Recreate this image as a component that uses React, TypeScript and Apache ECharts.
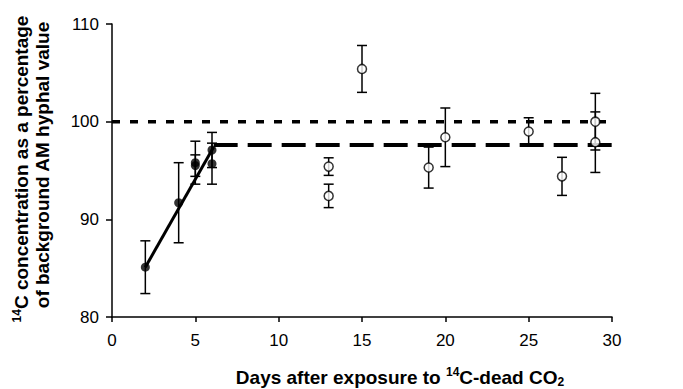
import React, { useEffect, useRef } from "react";
import * as echarts from "echarts";

// Filled circles: early sampling days
const filledDays = [2, 4, 5, 5, 6, 6];
const filledMeans = [85.1, 91.7, 95.8, 95.5, 97.1, 95.7];
const filledErr = [2.7, 4.1, 2.2, 1.1, 1.8, 2.1];

// Open circles: later sampling days
const openDays = [13, 13, 15, 19, 20, 25, 27, 29, 29];
const openMeans = [95.4, 92.4, 105.4, 95.3, 98.4, 99.0, 94.4, 100.0, 97.9];
const openErr = [0.9, 1.2, 2.4, 2.1, 3.0, 1.4, 1.95, 2.9, 3.1];

// Fitted lines
const regX = [2, 6.1];
const regY = [85.1, 97.4];
const plateauX = [6.1, 30];
const plateauY = 97.6;
const backgroundX = [0, 30];
const backgroundY = 100;

// Axes
const xTicks = [0, 5, 10, 15, 20, 25, 30];
const yTicks = [80, 90, 100, 110];

const FONT = "Liberation Sans, Arial, sans-serif";

export default function App() {
  const ref = useRef<HTMLDivElement>(null);
  useEffect(() => {
    if (!ref.current) return;
    const chart = echarts.init(ref.current, null, { renderer: "svg" });

    const errData = [
      ...filledDays.map((d, i) => [d, filledMeans[i] - filledErr[i], filledMeans[i] + filledErr[i]]),
      ...openDays.map((d, i) => [d, openMeans[i] - openErr[i], openMeans[i] + openErr[i]]),
    ];

    const option: any = {
      animation: false,
      backgroundColor: "#ffffff",
      grid: { left: 112, right: 71, top: 24, bottom: 72, containLabel: false },
      xAxis: {
        type: "value",
        min: xTicks[0],
        max: xTicks[xTicks.length - 1],
        interval: 5,
        axisLine: { onZero: false, lineStyle: { color: "#000", width: 1.5 } },
        axisTick: { show: true, inside: false, length: 5, lineStyle: { color: "#000", width: 1.5 } },
        axisLabel: { color: "#000", fontSize: 17, fontFamily: FONT, margin: 15 },
        splitLine: { show: false },
      },
      yAxis: {
        type: "value",
        min: yTicks[0],
        max: yTicks[yTicks.length - 1],
        interval: 10,
        axisLine: { show: true, onZero: false, lineStyle: { color: "#000", width: 1.5 } },
        axisTick: { show: true, inside: false, length: 6, lineStyle: { color: "#000", width: 1.5 } },
        axisLabel: { color: "#000", fontSize: 17, fontFamily: FONT, margin: 13 },
        splitLine: { show: false },
      },
      graphic: [
        {
          type: "text",
          x: 21,
          y: 169,
          rotation: Math.PI / 2,
          style: {
            text: "{sup|14}C concentration as a percentage",
            fontFamily: FONT,
            fontWeight: "bold",
            fontSize: 19,
            fill: "#000",
            align: "center",
            verticalAlign: "middle",
            rich: {
              sup: { fontSize: 12, fontWeight: "bold", fontFamily: FONT, verticalAlign: "top", padding: [0, 0, 9, 0] },
            },
          },
        },
        {
          type: "text",
          x: 42,
          y: 165,
          rotation: Math.PI / 2,
          style: {
            text: "of background AM hyphal value",
            fontFamily: FONT,
            fontWeight: "bold",
            fontSize: 19,
            fill: "#000",
            align: "center",
            verticalAlign: "middle",
          },
        },
        {
          type: "text",
          x: 400,
          y: 377,
          style: {
            text: "Days after exposure to {sup|14}C-dead CO{sub|2}",
            fontFamily: FONT,
            fontWeight: "bold",
            fontSize: 19,
            fill: "#000",
            align: "center",
            verticalAlign: "middle",
            rich: {
              sup: { fontSize: 12, fontWeight: "bold", fontFamily: FONT, padding: [0, 0, 10, 0] },
              sub: { fontSize: 12, fontWeight: "bold", fontFamily: FONT, padding: [9, 0, 0, 0] },
            },
          },
        },
      ],
      series: [
        {
          type: "line",
          data: backgroundX.map((x) => [x, backgroundY]),
          symbol: "none",
          lineStyle: { color: "#000", width: 3.5, type: [8, 10] },
          z: 2,
        },
        {
          type: "line",
          data: plateauX.map((x) => [x, plateauY]),
          symbol: "none",
          lineStyle: { color: "#000", width: 4, type: [24, 10] },
          z: 2,
        },
        {
          type: "line",
          data: regX.map((x, i) => [x, regY[i]]),
          symbol: "none",
          lineStyle: { color: "#000", width: 3 },
          z: 2,
        },
        {
          type: "custom",
          data: errData,
          z: 3,
          renderItem: (params: any, api: any) => {
            const x = api.value(0);
            const lo = api.coord([x, api.value(1)]);
            const hi = api.coord([x, api.value(2)]);
            const cap = 5;
            const style = { stroke: "#000", lineWidth: 1.5, fill: "none" };
            return {
              type: "group",
              children: [
                { type: "line", shape: { x1: lo[0], y1: lo[1], x2: hi[0], y2: hi[1] }, style },
                { type: "line", shape: { x1: lo[0] - cap, y1: lo[1], x2: lo[0] + cap, y2: lo[1] }, style },
                { type: "line", shape: { x1: hi[0] - cap, y1: hi[1], x2: hi[0] + cap, y2: hi[1] }, style },
              ],
            };
          },
        },
        {
          type: "scatter",
          data: filledDays.map((d, i) => [d, filledMeans[i]]),
          symbol: "circle",
          symbolSize: 9,
          itemStyle: { color: "#000" },
          z: 4,
        },
        {
          type: "scatter",
          data: openDays.map((d, i) => [d, openMeans[i]]),
          symbol: "circle",
          symbolSize: 9,
          itemStyle: { color: "#fff", borderColor: "#000", borderWidth: 1.5 },
          z: 4,
        },
      ],
    };
    chart.setOption(option);
    return () => chart.dispose();
  }, []);
  return <div ref={ref} style={{ position: "fixed", left: 0, top: 0, width: 683, height: 389 }} />;
}
